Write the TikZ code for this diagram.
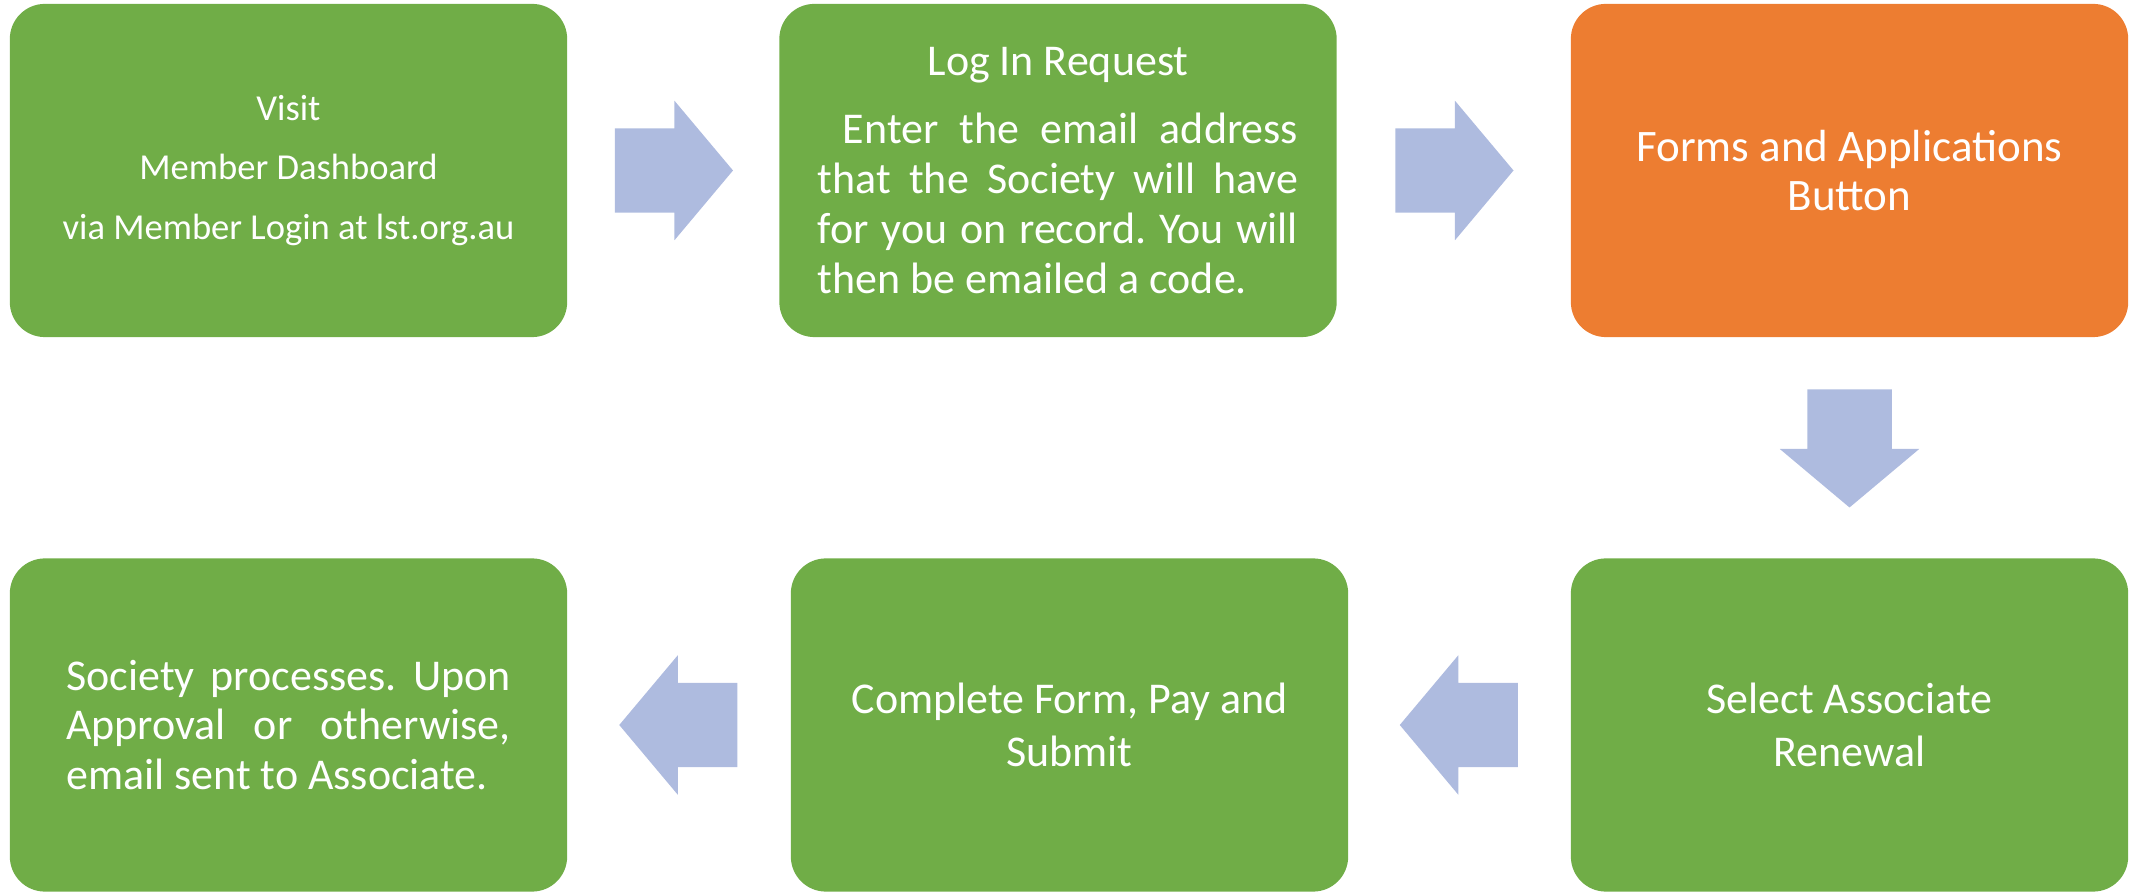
\documentclass[tikz,border=0pt]{standalone}
\usepackage{fontspec}
\setmainfont{Carlito}
\usetikzlibrary{shapes.arrows, calc}
\definecolor{cgreen}{HTML}{70AD47}
\definecolor{corange}{HTML}{ED7D31}
\definecolor{carrow}{HTML}{AEBBDF}
\newcommand{\fullline}[2][4.8cm]{\makebox[#1][s]{#2}}
\frenchspacing
\tikzset{
  every picture/.style={font=\fontsize{12.5}{14.2}\selectfont},
  box/.style={fill=#1, text=white, rounded corners=0.35cm, minimum width=5.57cm, minimum height=3.33cm, align=center, inner sep=0pt},
  box/.default=cgreen,
  blockarrow/.style={single arrow, fill=carrow, rotate=#1, anchor=tail, minimum height=1.18cm, minimum width=1.38cm, single arrow head extend=0.275cm, single arrow tip angle=100, inner xsep=0pt, inner ysep=0.415cm},
  blockarrow/.default=0,
}

\begin{document}
\begin{tikzpicture}[x=0.01cm, y=-0.01cm]
  \useasboundingbox (0,0) rectangle (2137,892);
  % top row
  \node[box, font=\fontsize{10.4}{17}\selectfont] (visit) at (288.5,170.5) {Visit\\Member Dashboard\\via Member Login at lst.org.au};
  \node[box] (login) at (1058,170.5) {Log In Request\\[0.18cm]
    \fullline{\hspace{0.25cm}Enter the email address}\\
    \fullline{that the Society will have}\\
    \fullline{for you on record. You will}\\
    \makebox[4.8cm][l]{then be emailed a code.}};
  \node[box=corange, font=\fontsize{12.8}{13.8}\selectfont] (forms) at (1849.5,170.5) {Forms and Applications\\Button};
  % bottom row
  \node[box, font=\fontsize{12.5}{15}\selectfont] (select) at (1849.5,725) {Select Associate\\Renewal};
  \node[box, font=\fontsize{12.5}{15}\selectfont] (complete) at (1069.5,725) {Complete Form, Pay and\\Submit};
  \node[box] (society) at (288.5,725) {\fullline[4.44cm]{Society processes. Upon}\\
    \fullline[4.44cm]{Approval or otherwise,}\\
    \makebox[4.44cm][l]{email sent to Associate.}};
  % block arrows between the steps
  \foreach \s/\t/\r [count=\i] in {visit/login/0, login/forms/0, forms/select/-90, select/complete/180, complete/society/180}
    \node[blockarrow=\r] (arr\i) at ($(\s)!0.5!(\t)!0.59cm!(\s)$) {};
\end{tikzpicture}
\end{document}
